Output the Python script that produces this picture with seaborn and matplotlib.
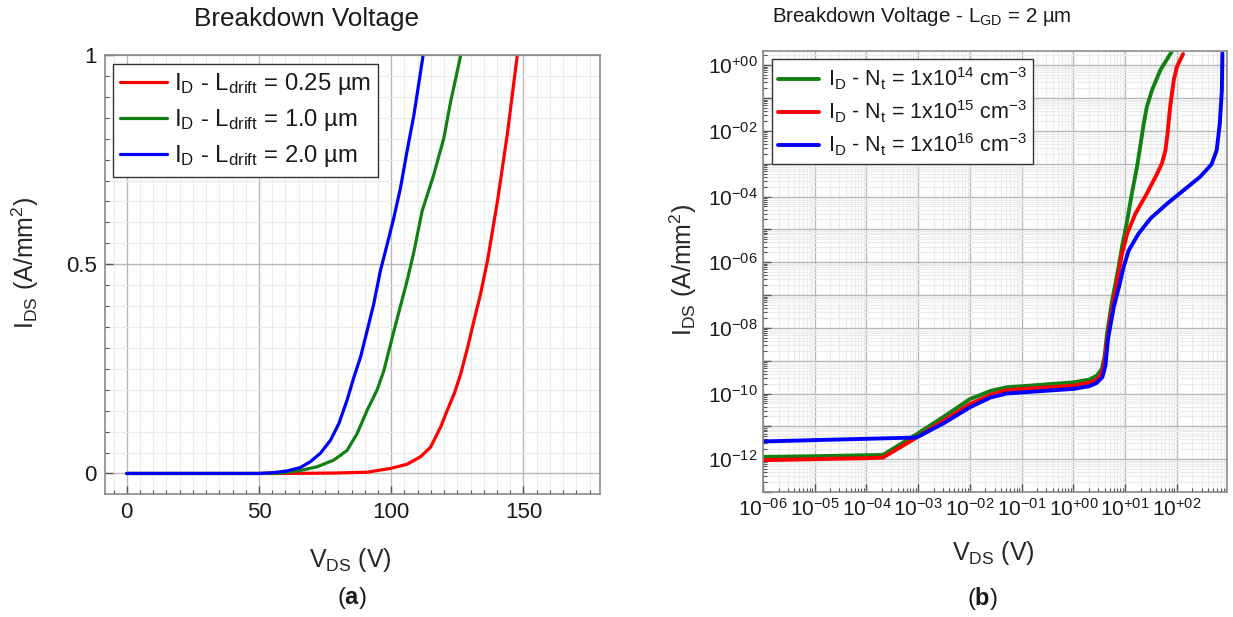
import numpy as np
import pandas as pd
import matplotlib
matplotlib.use("Agg")
import matplotlib.pyplot as plt
import seaborn as sns
from matplotlib.ticker import FixedLocator, MultipleLocator, LogLocator, FuncFormatter, NullFormatter

# ---- data: panel (a), linear I-V ----
red_v = [0, 30, 60, 78.3, 90.9, 99.7, 106, 111.1, 114.9, 118.7, 121.2, 123.8, 126.3, 128.9, 131.3, 133.8, 136.4, 140.2, 143.9, 147.7]
red_i = [0, 0, 0, 0.001, 0.003, 0.012, 0.022, 0.04, 0.063, 0.111, 0.151, 0.19, 0.238, 0.301, 0.365, 0.429, 0.508, 0.651, 0.81, 1.0]
green_v = [0, 30, 50, 58.1, 65.6, 72, 78.3, 83.3, 87.1, 90.9, 94.7, 97.2, 100.4, 103.5, 106, 108.6, 111.7, 116.1, 119.9, 122.5, 124.4, 126.3]
green_i = [0, 0, 0, 0.001, 0.007, 0.016, 0.032, 0.055, 0.095, 0.151, 0.2, 0.245, 0.325, 0.40, 0.46, 0.53, 0.627, 0.714, 0.801, 0.889, 0.944, 1.0]
blue_v = [0, 30, 50, 55.5, 60.6, 65.6, 69.4, 73.2, 77.0, 80.2, 83.3, 85.9, 88.4, 90.9, 93.4, 95.9, 98.5, 101.0, 103.5, 106.0, 108.6, 112.1]
blue_i = [0, 0, 0, 0.002, 0.006, 0.014, 0.028, 0.048, 0.079, 0.119, 0.175, 0.23, 0.278, 0.341, 0.405, 0.484, 0.548, 0.611, 0.682, 0.77, 0.857, 1.0]

left_labels = ["I$_{D}$ - L$_{drift}$ = 0.25 µm",
               "I$_{D}$ - L$_{drift}$ = 1.0 µm",
               "I$_{D}$ - L$_{drift}$ = 2.0 µm"]
left_colors = ["#ff0000", "#138013", "#0000ff"]

# ---- data: panel (b), log-log, stored as log10 values ----
g_logv = [-6, -5, -4, -3.68, -3.03, -2.5, -2.0, -1.6, -1.29, -0.84, 0, 0.3, 0.45, 0.55, 0.6, 0.65, 0.75, 0.85, 0.94, 1.04, 1.13, 1.23, 1.29, 1.36, 1.42, 1.52, 1.68, 1.9]
g_logi = [-11.93, -11.91, -11.88, -11.87, -11.24, -10.7, -10.17, -9.92, -9.81, -9.76, -9.66, -9.58, -9.46, -9.25, -8.9, -8.18, -7.16, -6.35, -5.54, -4.73, -3.91, -3.10, -2.49, -1.78, -1.27, -0.76, -0.15, 0.41]
r_logv = [-6, -5, -4, -3.68, -3.03, -2.5, -2.0, -1.6, -1.29, -0.84, 0, 0.3, 0.45, 0.55, 0.6, 0.66, 0.72, 0.85, 0.94, 1.04, 1.2, 1.42, 1.62, 1.71, 1.78, 1.82, 1.87, 1.94, 2.0, 2.12]
r_logi = [-12.03, -12.0, -11.97, -11.95, -11.34, -10.82, -10.32, -10.04, -9.9, -9.85, -9.76, -9.68, -9.59, -9.38, -9.05, -8.3, -7.67, -6.55, -5.74, -5.13, -4.52, -3.91, -3.30, -3.0, -2.59, -2.08, -1.27, -0.46, -0.05, 0.34]
b_logv = [-6, -5, -4, -3.03, -2.5, -2.0, -1.6, -1.29, -0.84, 0, 0.3, 0.45, 0.56, 0.62, 0.67, 0.78, 0.88, 0.97, 1.07, 1.26, 1.49, 1.81, 2.13, 2.45, 2.67, 2.77, 2.83, 2.87, 2.88]
b_logi = [-11.46, -11.42, -11.38, -11.34, -10.9, -10.42, -10.12, -10.0, -9.95, -9.86, -9.78, -9.68, -9.5, -9.15, -8.33, -7.37, -6.76, -6.15, -5.64, -5.13, -4.67, -4.22, -3.81, -3.40, -3.02, -2.59, -1.78, -0.76, 0.36]

right_labels = ["I$_{D}$ - N$_{t}$ = 1x10$^{14}$ cm$^{-3}$",
                "I$_{D}$ - N$_{t}$ = 1x10$^{15}$ cm$^{-3}$",
                "I$_{D}$ - N$_{t}$ = 1x10$^{16}$ cm$^{-3}$"]
right_colors = ["#138013", "#ff0000", "#0000ff"]

sns.set_theme(style="whitegrid")
plt.rcParams.update({
    "font.family": ["Liberation Sans", "DejaVu Sans"],
    "mathtext.fontset": "custom",
    "mathtext.rm": "Liberation Sans",
    "mathtext.it": "Liberation Sans:italic",
    "mathtext.bf": "Liberation Sans:bold",
    "mathtext.default": "regular",
    "text.color": "#1a1a1a",
    "xtick.color": "#1a1a1a",
    "ytick.color": "#1a1a1a",
})

left_df = pd.concat([
    pd.DataFrame({"V": v, "I": i, "series": lab})
    for v, i, lab in zip([red_v, green_v, blue_v], [red_i, green_i, blue_i], left_labels)
])
right_df = pd.concat([
    pd.DataFrame({"V": 10.0 ** np.array(v), "I": 10.0 ** np.array(i), "series": lab})
    for v, i, lab in zip([g_logv, r_logv, b_logv], [g_logi, r_logi, b_logi], right_labels)
])

fig = plt.figure(figsize=(12.33, 6.17), dpi=100)
ax1 = fig.add_axes([0.0852, 0.1994, 0.4015, 0.7115])
ax2 = fig.add_axes([0.6188, 0.2026, 0.3763, 0.7147])

def style_axes(ax):
    for sp in ax.spines.values():
        sp.set_color("#8a8a8a")
        sp.set_linewidth(1.2)
    ax.set_facecolor("white")
    ax.grid(True, which="major", color="#b8b8b8", lw=1.0)
    ax.grid(True, which="minor", color="#ebebeb", lw=0.8)
    ax.set_axisbelow(True)
    ax.tick_params(which="both", direction="in", bottom=True, left=True, top=False, right=False,
                   colors="#555555", labelcolor="#1a1a1a")
    ax.tick_params(which="major", length=6, width=1)
    ax.tick_params(which="minor", length=3, width=0.8)

# ---- panel (a) ----
sns.lineplot(data=left_df, x="V", y="I", hue="series", hue_order=left_labels,
             palette=left_colors, estimator=None, sort=False, lw=2.3, ax=ax1, legend=False)
ax1.set_xlim(-8.2, 179)
ax1.set_ylim(-0.049, 1.0)
ax1.xaxis.set_major_locator(FixedLocator([0, 50, 100, 150]))
ax1.xaxis.set_minor_locator(MultipleLocator(5))
ax1.yaxis.set_major_locator(FixedLocator([0, 0.5, 1.0]))
ax1.yaxis.set_minor_locator(MultipleLocator(0.05))
ax1.yaxis.set_major_formatter(FuncFormatter(lambda v, p: "%g" % v))
style_axes(ax1)
ax1.tick_params(which="major", labelsize=16, pad=6)
ax1.set_xlabel("V$_{DS}$ (V)", fontsize=18)
ax1.set_ylabel("I$_{DS}$ (A/mm$^{2}$)", fontsize=18)
ax1.xaxis.set_label_coords(0.495, -0.150)
ax1.xaxis.label.set_va("center")
ax1.yaxis.set_label_coords(-0.162, 0.526)
ax1.yaxis.label.set_va("center")
leg1 = ax1.legend(ax1.get_lines()[:3], left_labels, loc="upper left", bbox_to_anchor=(0.016, 0.979),
                  borderaxespad=0, fontsize=17.2, handlelength=1.95, handletextpad=0.3,
                  labelspacing=0.42, borderpad=0.3, fancybox=False, framealpha=1)
leg1.get_frame().set_edgecolor("#333333")
leg1.get_frame().set_linewidth(1.0)

# ---- panel (b) ----
ax2.set_xscale("log")
ax2.set_yscale("log")
sns.lineplot(data=right_df, x="V", y="I", hue="series", hue_order=right_labels,
             palette=right_colors, estimator=None, sort=False, lw=2.8, ax=ax2, legend=False)
ax2.set_xlim(1e-6, 930)
ax2.set_ylim(1e-13, 2.7)
ax2.xaxis.set_major_locator(LogLocator(base=10, numticks=100))
ax2.xaxis.set_minor_locator(LogLocator(base=10, subs=np.arange(2, 10), numticks=100))
ax2.yaxis.set_major_locator(LogLocator(base=10, numticks=100))
ax2.yaxis.set_minor_locator(LogLocator(base=10, subs=np.arange(2, 10), numticks=100))

def dec_label(v, p):
    e = int(round(np.log10(v)))
    return "10$^{%+03d}$" % e

def dec_label_even(v, p):
    e = int(round(np.log10(v)))
    return "10$^{%+03d}$" % e if e % 2 == 0 else ""

ax2.xaxis.set_major_formatter(FuncFormatter(dec_label))
ax2.yaxis.set_major_formatter(FuncFormatter(dec_label_even))
ax2.xaxis.set_minor_formatter(NullFormatter())
ax2.yaxis.set_minor_formatter(NullFormatter())
style_axes(ax2)
ax2.tick_params(which="major", labelsize=15, pad=4)
ax2.set_xlabel("V$_{DS}$ (V)", fontsize=18)
ax2.set_ylabel("I$_{DS}$ (A/mm$^{2}$)", fontsize=18)
ax2.xaxis.set_label_coords(0.496, -0.138)
ax2.xaxis.label.set_va("center")
ax2.yaxis.set_label_coords(-0.172, 0.503)
ax2.yaxis.label.set_va("center")
leg2 = ax2.legend(ax2.get_lines()[:3], right_labels, loc="upper left", bbox_to_anchor=(0.019, 0.982),
                  borderaxespad=0, fontsize=15.5, handlelength=1.9, handletextpad=0.4,
                  labelspacing=0.3, borderpad=0.3, fancybox=False, framealpha=1)
leg2.get_frame().set_edgecolor("#333333")
leg2.get_frame().set_linewidth(1.0)

# titles and captions
fig.text(306 / 1233, 1 - 19 / 617, "Breakdown Voltage", ha="center", va="center", fontsize=18.8)
fig.text(772 / 1233, 1 - 17 / 617, "Breakdown Voltage - L$_{GD}$ = 2 µm", ha="left", va="center", fontsize=14.8)
fig.text(352 / 1233, 1 - 598 / 617, "($\\mathbf{a}$)", ha="center", va="center", fontsize=17)
fig.text(982 / 1233, 1 - 598 / 617, "($\\mathbf{b}$)", ha="center", va="center", fontsize=17)

fig.savefig("out.png", dpi=100)
